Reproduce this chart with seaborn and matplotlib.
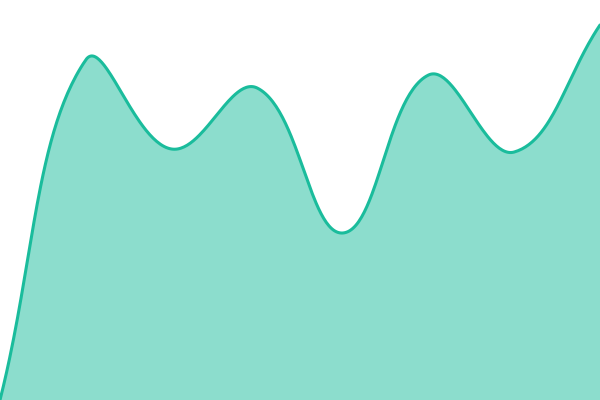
import matplotlib
matplotlib.use("Agg")
import matplotlib.pyplot as plt
import seaborn as sns
import numpy as np

# Data (value scale 0..400)
steps = [0, 1, 2, 3, 4, 5, 6, 7]
values = [0, 340, 251, 312, 167, 325, 248, 375]

W, H = 600, 400


def spline(xs, ys, tension=0.4, n=60):
    # smooth line through the points, control points built in pixel space
    sxf = W / (xs[-1] - xs[0])
    pts = np.column_stack([(np.asarray(xs, float) - xs[0]) * sxf,
                           np.asarray(ys, float) * H / 400])
    k = len(pts)
    cp_prev, cp_next = pts.copy(), pts.copy()
    for i in range(k):
        prev = pts[max(i - 1, 0)]
        cur = pts[i]
        nxt = pts[min(i + 1, k - 1)]
        d01 = np.linalg.norm(cur - prev)
        d12 = np.linalg.norm(nxt - cur)
        s01 = d01 / (d01 + d12)
        s12 = d12 / (d01 + d12)
        cp_prev[i] = cur - tension * s01 * (nxt - prev)
        cp_next[i] = cur + tension * s12 * (nxt - prev)
    cp_prev[:, 0] = np.clip(cp_prev[:, 0], 0, W)
    cp_next[:, 0] = np.clip(cp_next[:, 0], 0, W)
    cp_prev[:, 1] = np.clip(cp_prev[:, 1], 0, H)
    cp_next[:, 1] = np.clip(cp_next[:, 1], 0, H)
    t = np.linspace(0, 1, n)[:, None]
    out = []
    for i in range(k - 1):
        p1, c1, c2, p2 = pts[i], cp_next[i], cp_prev[i + 1], pts[i + 1]
        seg = ((1 - t) ** 3 * p1 + 3 * (1 - t) ** 2 * t * c1
               + 3 * (1 - t) * t ** 2 * c2 + t ** 3 * p2)
        out.append(seg if i == 0 else seg[1:])
    out = np.vstack(out)
    return out[:, 0] / sxf + xs[0], out[:, 1] * 400 / H


sx, sy = spline(steps, values)

sns.set_style("white")
fig = plt.figure(figsize=(6, 4), dpi=100)
ax = fig.add_axes([0, 0, 1, 1])

ax.fill_between(sx, sy, 0, color="#1abc9c", alpha=0.5, linewidth=0)
sns.lineplot(x=sx, y=sy, ax=ax, color="#1abc9c", linewidth=2.2, sort=False)

ax.set_xlim(steps[0], steps[-1])
ax.set_ylim(0, 400)
ax.axis("off")

fig.savefig("out.png", dpi=100)
